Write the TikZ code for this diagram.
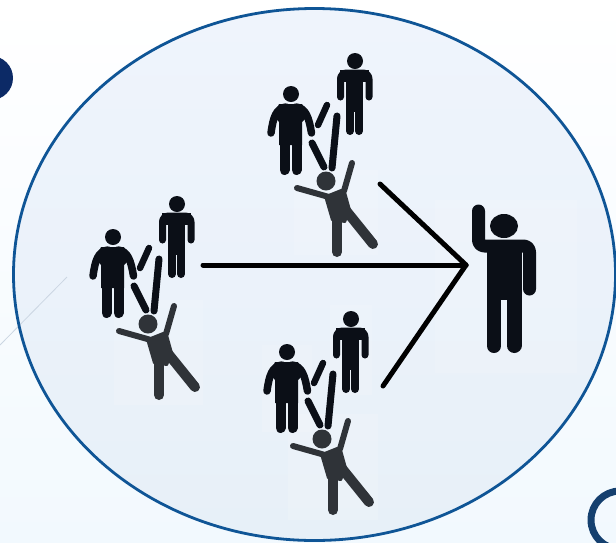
\documentclass[tikz,border=0pt]{standalone}
\definecolor{figdark}{HTML}{0B0F17}
\definecolor{figgrey}{HTML}{2F3338}
\definecolor{rimblue}{HTML}{0F5596}
\definecolor{ringblue}{HTML}{15406F}
\definecolor{dotblue}{HTML}{0C2A66}
\definecolor{discTop}{HTML}{EFF4FC}
\definecolor{discBot}{HTML}{E7F0F8}
\definecolor{pageBot}{HTML}{F2F9FE}
\definecolor{hairline}{HTML}{CBD6E2}
\tikzset{
  limb/.style={draw=figdark,line cap=round,line join=round,line width=#1},
  falling/.style={draw=figgrey,line cap=round,line join=round,line width=#1},
  pointer/.style={draw=black,line width=5pt,line cap=round},
  patch/.style={fill=white,fill opacity=.14,draw=none},
  crowd/.pic={
    % standing person, back right
    \fill[figdark] (355,61) circle (8);
    \draw[limb=7pt,rounded corners=6pt] (340.5,97) -- (340.5,73) -- (369,73) -- (369,97);
    \fill[figdark] (340,70) rectangle (369,82);
    \fill[figdark] (346,70) rectangle (363,112);
    \draw[limb=8pt] (350,105) -- (350,131);
    \draw[limb=8pt] (359,105) -- (359,131);
    % standing person, front left
    \fill[figdark] (291,94) circle (8);
    \draw[limb=7.5pt] (271,133) .. controls (273,118) and (276,108) .. (286,107);
    \draw[limb=7.5pt] (311.5,133) .. controls (309,118) and (306,108) .. (296,107);
    \fill[figdark] (279,104) -- (302,104) -- (308,116) -- (302,122) -- (302,145) -- (279,145) -- (279,122) -- (274,116) -- cycle;
    \draw[limb=10pt] (284.5,140) -- (284.5,170);
    \draw[limb=10pt] (296.5,140) -- (296.5,170);
    % sticks
    \draw[limb=6.5pt] (327,105) -- (318,125);
    \draw[limb=7pt] (337,116) -- (332,168);
    \draw[limb=7pt] (312,143) -- (324,167);
    % falling person
    \fill[figgrey] (326,181) circle (9.5);
    \draw[falling=6pt] (297,188) -- (329,197) -- (344,191) -- (352,163);
    \filldraw[figgrey,line width=2pt,line join=round] (325,196) -- (345,192) -- (350,210) -- (345,222) -- (332,220) -- cycle;
    \draw[falling=10pt] (337,214) -- (337,252);
    \draw[falling=10pt] (344,208) -- (373,244);
  }
}
\begin{document}
\begin{tikzpicture}[x=1pt,y=-1pt]
\useasboundingbox (0,0) rectangle (616,542);
\clip (0,0) rectangle (616,542);
\shade[top color=white,bottom color=pageBot] (0,0) rectangle (616,542);
\fill[dotblue] (-9,78) circle (22);
\draw[ringblue,line width=7pt] (620,520) circle (29);
\shade[top color=discTop,bottom color=discBot] (314.5,274.5) ellipse (301 and 266);
\draw[hairline,line width=.8pt] (0,345) -- (67,277);
\draw[rimblue,line width=2.8pt] (314.5,274.5) ellipse (301 and 266);
\fill[patch] (114,300) rectangle (203,405);
\fill[patch] (288,414) rectangle (378,520);
\fill[patch] (262,345) rectangle (312,432);
\fill[patch] (330,305) rectangle (372,395);
\fill[patch] (294,170) rectangle (378,255);
\fill[patch] (435,200) rectangle (577,373);
\pic at (0,0) {crowd};
\pic at (-178,143) {crowd};
\pic at (-4,258) {crowd};
% person raising a hand
\fill[figdark] (504,226) ellipse (14 and 12);
\draw[limb=13pt,rounded corners=6pt] (478.5,211) -- (478.5,246) -- (529.5,246) -- (529.5,289);
\fill[figdark] (487,240) rectangle (522,300);
\draw[limb=14pt] (494,292) -- (494,346);
\draw[limb=15pt] (514,292) -- (514,345.5);
% pointers
\coordinate (hub) at (466,265);
\coordinate (fromLeft) at (203,265);
\coordinate (fromTop) at (380,184);
\coordinate (fromBottom) at (383,386);
\draw[pointer] (fromLeft) -- (hub);
\draw[pointer] (fromTop) -- (hub);
\draw[pointer] (fromBottom) -- (hub);
\end{tikzpicture}
\end{document}
